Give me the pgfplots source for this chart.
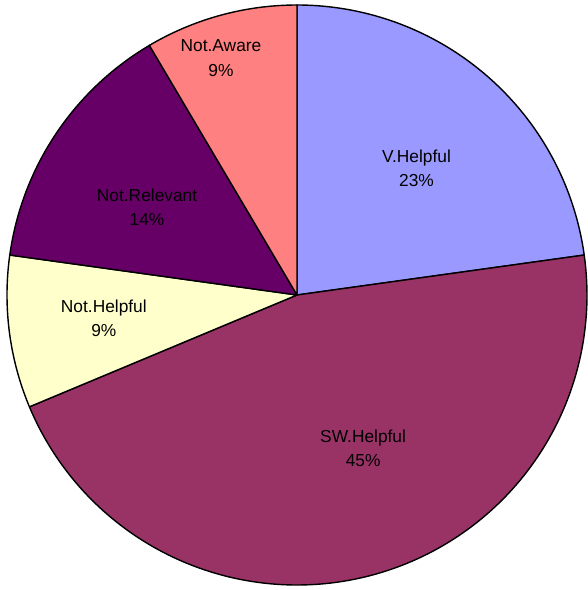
\documentclass[border=0pt]{standalone}
\usepackage{pgfplots}
\pgfplotsset{compat=1.18}
\usepackage{fontspec}
\setmainfont{Liberation Sans}
\definecolor{cV}{HTML}{9999FF}
\definecolor{cSW}{HTML}{993366}
\definecolor{cNH}{HTML}{FFFFCC}
\definecolor{cNR}{HTML}{660066}
\definecolor{cNA}{HTML}{FF8080}
% slice shares in percent (clockwise from 12 o'clock)
\def\pV{22.8}\def\pSW{45.9}\def\pNH{8.5}\def\pNR{14.3}\def\pNA{8.5}
\begin{document}
\begin{tikzpicture}
\pgfmathsetmacro{\aA}{90}
\pgfmathsetmacro{\aB}{\aA-3.6*\pV}
\pgfmathsetmacro{\aC}{\aB-3.6*\pSW}
\pgfmathsetmacro{\aD}{\aC-3.6*\pNH}
\pgfmathsetmacro{\aE}{\aD-3.6*\pNR}
\pgfmathsetmacro{\aF}{\aE-3.6*\pNA}
\begin{axis}[
  scale only axis, width=8.805cm, height=8.85cm,
  xmin=-1.0241, xmax=1.0, ymin=-1.0172, ymax=1.0172,
  hide axis, clip=false,
  every axis plot/.append style={draw=black, line width=0.6pt, line join=round},
  nodes={font=\fontsize{7.4}{10.3}\selectfont, align=center, text=black},
]
\path (rel axis cs:0,0) rectangle (rel axis cs:1,1);
\addplot[fill=cV,  domain=\aB:\aA, samples=80] ({cos(x)},{sin(x)}) -- (axis cs:0,0) -- cycle;
\addplot[fill=cSW, domain=\aC:\aB, samples=150] ({cos(x)},{sin(x)}) -- (axis cs:0,0) -- cycle;
\addplot[fill=cNH, domain=\aD:\aC, samples=40] ({cos(x)},{sin(x)}) -- (axis cs:0,0) -- cycle;
\addplot[fill=cNR, domain=\aE:\aD, samples=60] ({cos(x)},{sin(x)}) -- (axis cs:0,0) -- cycle;
\addplot[fill=cNA, domain=\aF:\aE, samples=40] ({cos(x)},{sin(x)}) -- (axis cs:0,0) -- cycle;
\node at (axis cs:0.412,0.438) {V.Helpful\\23\%};
\node at (axis cs:0.228,-0.528) {SW.Helpful\\45\%};
\node at (axis cs:-0.666,-0.079) {Not.Helpful\\9\%};
\node at (axis cs:-0.517,0.303) {Not.Relevant\\14\%};
\node at (axis cs:-0.262,0.817) {Not.Aware\\9\%};
\end{axis}
\end{tikzpicture}
\end{document}
